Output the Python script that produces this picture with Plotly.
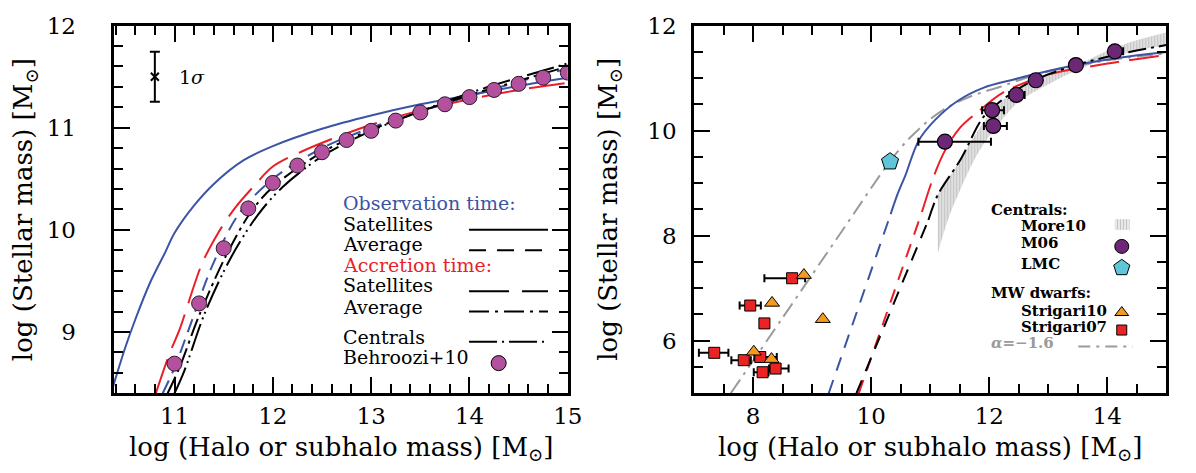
import plotly.graph_objects as go

W, H = 1196, 473

# ---------------- LEFT PANEL DATA ----------------
obs_sat_x = [10.37, 10.5, 10.6, 10.75, 10.9, 11.0, 11.2, 11.4, 11.7, 12.0, 12.5, 13.0, 13.5, 14.0, 14.5, 15.0]
obs_sat_y = [8.45, 8.85, 9.12, 9.48, 9.77, 9.97, 10.24, 10.45, 10.68, 10.82, 10.99, 11.12, 11.23, 11.32, 11.41, 11.49]

obs_avg_x = [10.88, 11.0, 11.15, 11.38, 11.65, 12.0, 12.5, 13.0, 13.5, 14.0, 14.5, 15.0]
obs_avg_y = [8.4, 8.65, 9.04, 9.64, 10.15, 10.5, 10.8, 11.0, 11.16, 11.31, 11.45, 11.58]

acc_sat_x = [10.81, 10.95, 11.05, 11.28, 11.45, 11.62, 11.8, 12.0, 12.3, 12.6, 13.0, 13.5, 14.0, 14.5, 15.0]
acc_sat_y = [8.4, 8.79, 9.02, 9.67, 9.98, 10.22, 10.42, 10.62, 10.77, 10.89, 11.03, 11.17, 11.28, 11.37, 11.44]

acc_avg_x = [10.93, 11.05, 11.25, 11.52, 11.78, 12.0, 12.5, 13.0, 13.5, 14.0, 14.5, 15.0]
acc_avg_y = [8.4, 8.65, 9.16, 9.74, 10.18, 10.42, 10.76, 10.98, 11.16, 11.32, 11.46, 11.6]

cen_x = [11.0, 11.1, 11.31, 11.58, 11.85, 12.1, 12.5, 13.0, 13.5, 14.0, 14.5, 15.0]
cen_y = [8.4, 8.62, 9.19, 9.74, 10.15, 10.42, 10.72, 10.97, 11.16, 11.34, 11.49, 11.63]

behroozi_x = [11.0, 11.25, 11.5, 11.75, 12.0, 12.25, 12.5, 12.75, 13.0, 13.25, 13.5, 13.75, 14.0, 14.25, 14.5, 14.75, 15.0]
behroozi_y = [8.69, 9.28, 9.82, 10.21, 10.46, 10.63, 10.76, 10.88, 10.97, 11.07, 11.15, 11.23, 11.30, 11.37, 11.43, 11.49, 11.54]

sigma_x = [10.8]
sigma_y = [11.5]
sigma_err = [0.245]

# ---------------- RIGHT PANEL DATA ----------------
r_obs_lo_x = [9.28, 10.33]
r_obs_lo_y = [5.0, 8.41]
r_obs_hi_x = [10.33, 10.45, 10.58, 10.8, 11.08, 11.47, 11.91, 12.4, 12.75, 13.47, 14.2, 15.0]
r_obs_hi_y = [8.41, 8.8, 9.15, 9.8, 10.2, 10.57, 10.82, 10.97, 11.07, 11.25, 11.39, 11.5]

r_acc_lo_x = [9.79, 10.86]
r_acc_lo_y = [5.0, 8.45]
r_acc_hi_x = [10.86, 11.05, 11.25, 11.5, 11.8, 12.24, 13.02, 13.86, 15.0]
r_acc_hi_y = [8.45, 9.1, 9.62, 10.05, 10.35, 10.73, 11.07, 11.25, 11.44]

r_cen_lo_x = [9.75, 10.97]
r_cen_lo_y = [5.0, 8.3]
r_cen_hi_x = [10.97, 11.13, 11.52, 11.91, 12.36, 12.8, 13.47, 14.13, 15.0]
r_cen_hi_y = [8.3, 8.78, 9.46, 10.27, 10.7, 10.98, 11.25, 11.44, 11.63]

alpha_x = [7.62, 8.5, 9.5, 10.32, 10.6, 10.8, 11.0, 11.3, 11.7, 12.2, 12.8, 13.5, 14.2, 15.0]
alpha_y = [5.0, 6.44, 8.08, 9.42, 9.8, 10.02, 10.22, 10.45, 10.66, 10.84, 11.07, 11.24, 11.37, 11.47]

more_x = [11.13, 11.3, 11.5, 11.75, 12.0, 12.25, 12.5, 13.0, 13.5, 14.0, 14.5, 15.0]
more_lo = [7.67, 8.3, 8.85, 9.45, 9.9, 10.25, 10.55, 10.88, 11.16, 11.37, 11.52, 11.63]
more_hi = [8.78, 9.07, 9.43, 9.9, 10.3, 10.6, 10.8, 11.05, 11.25, 11.52, 11.72, 11.87]

m06_x = [11.25, 12.07, 12.05, 12.46, 12.79, 13.47, 14.13]
m06_y = [9.79, 10.09, 10.39, 10.68, 10.96, 11.25, 11.51]
m06_em = [0.45, 0.16, 0.17, 0.12, 0.08, 0.0, 0.0]
m06_ep = [0.78, 0.23, 0.2, 0.14, 0.09, 0.0, 0.14]

lmc_x = [10.32]
lmc_y = [9.41]

s07_x = [8.66, 7.95, 8.19, 7.34, 7.84, 8.12, 8.16, 8.38]
s07_y = [7.19, 6.67, 6.33, 5.77, 5.63, 5.69, 5.40, 5.47]
s07_em = [0.47, 0.18, 0.0, 0.26, 0.21, 0.1, 0.15, 0.11]
s07_ep = [0.22, 0.18, 0.0, 0.24, 0.12, 0.28, 0.1, 0.22]

s10_x = [8.86, 8.32, 9.18, 8.01, 8.31]
s10_y = [7.25, 6.72, 6.41, 5.79, 5.65]

left_xticks = [11, 12, 13, 14, 15]
left_yticks = [9, 10, 11, 12]
right_xticks = [8, 10, 12, 14]
right_yticks = [6, 8, 10, 12]

# ---------------- STYLE ----------------
BLUE = "#3c54a5"
RED = "#ea1f27"
GRAY = "#9a9a9a"
HATCH = "#8a8a8a"
FONT = "DejaVu Serif"

def fx(p):
    return p / W

def fy(p):
    return 1 - p / H

fig = go.Figure()

def line(x, y, color, dash, xa="x", ya="y", width=2):
    fig.add_trace(go.Scatter(x=x, y=y, mode="lines", xaxis=xa, yaxis=ya,
                             line=dict(color=color, width=width, dash=dash, shape="spline", smoothing=0.9),
                             showlegend=False, hoverinfo="skip"))

# Left panel curves
line(obs_sat_x, obs_sat_y, BLUE, "solid")
line(obs_avg_x, obs_avg_y, BLUE, "14px,8px")
line(acc_sat_x, acc_sat_y, RED, "36px,12px")
line(acc_avg_x, acc_avg_y, "black", "18px,5px,3px,5px")
line(cen_x, cen_y, "black", "28px,5px,2px,4px,2px,5px")

fig.add_trace(go.Scatter(x=behroozi_x, y=behroozi_y, mode="markers", xaxis="x", yaxis="y",
                         marker=dict(size=15, color="#b3519e", line=dict(color="#2a1a2a", width=1)),
                         showlegend=False))
fig.add_trace(go.Scatter(x=sigma_x, y=sigma_y, mode="markers", xaxis="x", yaxis="y",
                         marker=dict(symbol="x-thin", size=8, color="black", line=dict(color="black", width=2)),
                         error_y=dict(type="data", array=sigma_err, color="black", thickness=2, width=5),
                         showlegend=False))

# Right panel
fig.add_trace(go.Scatter(x=more_x, y=more_lo, mode="lines", xaxis="x2", yaxis="y2",
                         line=dict(width=0, color=HATCH, shape="spline"), showlegend=False, hoverinfo="skip"))
fig.add_trace(go.Scatter(x=more_x, y=more_hi, mode="lines", xaxis="x2", yaxis="y2", fill="tonexty",
                         fillcolor="rgba(0,0,0,0)",
                         fillpattern=dict(shape="|", fgcolor=HATCH, bgcolor="rgba(0,0,0,0)", size=3, solidity=0.7),
                         line=dict(width=0, color=HATCH, shape="spline"), showlegend=False, hoverinfo="skip"))

line(alpha_x, alpha_y, GRAY, "16px,6px,3px,6px", "x2", "y2")
line(r_obs_lo_x, r_obs_lo_y, BLUE, "14px,10px", "x2", "y2")
line(r_obs_hi_x, r_obs_hi_y, BLUE, "solid", "x2", "y2")
line(r_acc_lo_x, r_acc_lo_y, RED, "14px,10px", "x2", "y2")
line(r_acc_hi_x, r_acc_hi_y, RED, "30px,10px", "x2", "y2")
line(r_cen_lo_x, r_cen_lo_y, "black", "14px,10px", "x2", "y2")
line(r_cen_hi_x, r_cen_hi_y, "black", "18px,5px,3px,5px", "x2", "y2")

fig.add_trace(go.Scatter(x=m06_x, y=m06_y, mode="markers", xaxis="x2", yaxis="y2",
                         marker=dict(size=15, color="#6c2877", line=dict(color="black", width=1.2)),
                         error_x=dict(type="data", array=m06_ep, arrayminus=m06_em, color="black", thickness=2, width=4),
                         showlegend=False))
fig.add_trace(go.Scatter(x=lmc_x, y=lmc_y, mode="markers", xaxis="x2", yaxis="y2",
                         marker=dict(symbol="pentagon", size=18, color="#5ec6d8", line=dict(color="black", width=1)),
                         showlegend=False))
fig.add_trace(go.Scatter(x=s07_x, y=s07_y, mode="markers", xaxis="x2", yaxis="y2",
                         marker=dict(symbol="square", size=11, color="#ea2424", line=dict(color="black", width=1)),
                         error_x=dict(type="data", array=s07_ep, arrayminus=s07_em, color="black", thickness=2, width=4),
                         showlegend=False))
fig.add_trace(go.Scatter(x=s10_x, y=s10_y, mode="markers", xaxis="x2", yaxis="y2",
                         marker=dict(symbol="triangle-up", size=13, color="#f39a1f", line=dict(color="black", width=1)),
                         showlegend=False))

# ---------------- LEGEND KEYS (pixel overlay axis) ----------------
def key_line(x0, x1, y, color, dash, width=2):
    fig.add_trace(go.Scatter(x=[x0, x1], y=[y, y], mode="lines", xaxis="x3", yaxis="y3",
                             line=dict(color=color, width=width, dash=dash),
                             showlegend=False, hoverinfo="skip"))

def key_marker(x, y, symbol, size, color):
    fig.add_trace(go.Scatter(x=[x], y=[y], mode="markers", xaxis="x3", yaxis="y3",
                             marker=dict(symbol=symbol, size=size, color=color, line=dict(color="black", width=1)),
                             showlegend=False, hoverinfo="skip"))

key_line(475, 555, 223, "black", "solid")
key_line(475, 555, 244, "black", "17px,11px")
key_line(475, 555, 286, "black", "40px,13px")
key_line(475, 555, 307, "black", "20px,6px,3px,6px")
key_line(475, 555, 338, "black", "28px,5px,2px,5px")
key_marker(505, 360, "circle", 15, "#b3519e")

fig.add_trace(go.Scatter(x=[1129, 1144, 1144, 1129, 1129], y=[212, 212, 223, 223, 212], mode="lines",
                         xaxis="x3", yaxis="y3", fill="toself", fillcolor="rgba(0,0,0,0)",
                         fillpattern=dict(shape="|", fgcolor=HATCH, bgcolor="rgba(0,0,0,0)", size=3, solidity=0.6),
                         line=dict(width=0), showlegend=False, hoverinfo="skip"))
key_marker(1136, 240, "circle", 14, "#6c2877")
key_marker(1136, 262, "pentagon", 17, "#5ec6d8")
key_marker(1136, 308, "triangle-up", 12, "#f39a1f")
key_marker(1136, 326, "square", 10, "#ea2424")
key_line(1092, 1147, 343, GRAY, "12px,6px,3px,6px")

# ---------------- AXES ----------------
def axis_common(**kw):
    d = dict(showline=True, linecolor="black", linewidth=3, mirror="allticks",
             ticks="inside", ticklen=16, tickwidth=2, tickcolor="black",
             showgrid=False, zeroline=False,
             tickfont=dict(family=FONT, size=23, color="black"))
    d.update(kw)
    return d

dom_y = [1 - 391 / H, 1 - 13 / H]
fig.update_layout(
    width=W, height=H, autosize=False,
    margin=dict(l=0, r=0, t=0, b=0),
    paper_bgcolor="white", plot_bgcolor="rgba(0,0,0,0)",
    xaxis=axis_common(domain=[115 / W, 575 / W], range=[10.38, 15.0], anchor="y",
                      tickvals=left_xticks, ticklabelstandoff=0,
                      minor=dict(ticks="inside", dtick=0.2, tick0=11, ticklen=9, tickwidth=2, tickcolor="black")),
    yaxis=axis_common(domain=dom_y, range=[8.4, 12.0], anchor="x",
                      tickvals=left_yticks, ticklabelstandoff=30,
                      minor=dict(ticks="inside", dtick=0.2, tick0=9, ticklen=9, tickwidth=2, tickcolor="black")),
    xaxis2=axis_common(domain=[703 / W, 1181 / W], range=[7.0, 15.0], anchor="y2",
                       tickvals=right_xticks, ticklabelstandoff=0,
                       minor=dict(ticks="inside", dtick=0.5, tick0=8, ticklen=9, tickwidth=2, tickcolor="black")),
    yaxis2=axis_common(domain=dom_y, range=[5.0, 12.0], anchor="x2",
                       tickvals=right_yticks, ticklabelstandoff=10,
                       minor=dict(ticks="inside", dtick=0.5, tick0=6, ticklen=9, tickwidth=2, tickcolor="black")),
    xaxis3=dict(domain=[0, 1], range=[0, W], visible=False, anchor="y3", fixedrange=True),
    yaxis3=dict(domain=[0, 1], range=[H, 0], visible=False, anchor="x3", fixedrange=True),
)

ann = []
def text(x, y, s, size=20, color="black", xanchor="left", angle=0, bold=False):
    if bold:
        s = "<b>" + s + "</b>"
    ann.append(dict(x=fx(x), y=fy(y), xref="paper", yref="paper", text=s, showarrow=False,
                    xanchor=xanchor, yanchor="middle", textangle=angle,
                    font=dict(family=FONT, size=size, color=color)))

title_x = "log (Halo or subhalo mass) [M<sub>⊙</sub>]"
title_y = "log (Stellar mass) [M<sub>⊙</sub>]"
text(345, 448, title_x, 26, xanchor="center")
text(942, 448, title_x, 26, xanchor="center")
text(25, 202, title_y, 26, xanchor="center", angle=-90)
text(617, 202, title_y, 26, xanchor="center", angle=-90)

# left legend
text(345, 195, "Observation time:", 19, BLUE)
text(345, 217, "Satellites", 19)
text(345, 238, "Average", 19)
text(345, 259, "Accretion time:", 19, RED)
text(345, 280, "Satellites", 19)
text(345, 302, "Average", 19)
text(345, 333, "Centrals", 19)
text(345, 354, "Behroozi+10", 19)

# sigma label
ann.append(dict(x=11.03, y=11.5, xref="x", yref="y", text="1<i>σ</i>", showarrow=False,
                xanchor="left", yanchor="middle", font=dict(family=FONT, size=19, color="black")))

# right legend
text(1002, 203, "Centrals:", 15, bold=True)
text(1032, 219, "More10", 15, bold=True)
text(1032, 236, "M06", 15, bold=True)
text(1032, 258, "LMC", 15, bold=True)
text(1002, 288, "MW dwarfs:", 15, bold=True)
text(1032, 306, "Strigari10", 15, bold=True)
text(1032, 323, "Strigari07", 15, bold=True)
text(1002, 339, "<i>α</i>=−1.6", 15, GRAY, bold=True)

fig.update_layout(annotations=ann)

fig.write_html("out.html")
